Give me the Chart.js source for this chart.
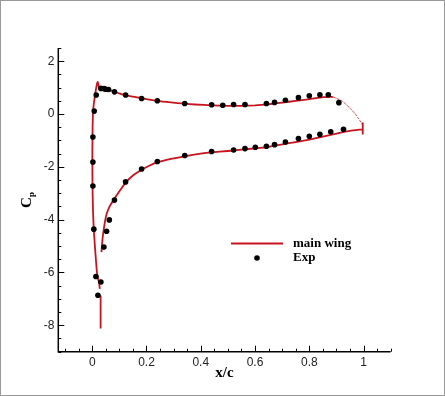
<!DOCTYPE html>
<html lang="en">
<head>
  <meta charset="UTF-8">
  <title>Cp - main wing</title>
  <script src="https://cdn.jsdelivr.net/npm/chart.js"></script>
  <style>
    body { margin: 0; background: #fff; }
  </style>
</head>
<body>
  <canvas id="cp" width="445" height="396"></canvas>
<script>
  // experimental points
  const expX = [0.0147, 0.0074, 0.0025, 0.0025, 0.0025, 0.006, 0.0135, 0.032, 0.021,
    0.032, 0.044, 0.05, 0.06, 0.082, 0.123, 0.182, 0.24, 0.341, 0.44, 0.481, 0.521, 0.563,
    0.642, 0.672, 0.712, 0.76, 0.80, 0.839, 0.87, 0.909,
    0.043, 0.053, 0.063, 0.082, 0.123, 0.182, 0.24, 0.341, 0.44, 0.521, 0.563, 0.601,
    0.642, 0.672, 0.712, 0.76, 0.80, 0.839, 0.879, 0.926];
  const expY = [0.72, 0.11, -0.87, -1.82, -2.73, -4.36, -6.15, -6.36, -6.86,
    0.97, 0.96, 0.94, 0.93, 0.84, 0.72, 0.59, 0.50, 0.40, 0.35, 0.33, 0.36, 0.36,
    0.40, 0.44, 0.52, 0.62, 0.69, 0.73, 0.73, 0.43,
    -5.04, -4.44, -4.01, -3.26, -2.57, -2.08, -1.80, -1.57, -1.42, -1.36, -1.31, -1.26,
    -1.22, -1.16, -1.06, -0.93, -0.84, -0.77, -0.67, -0.58];

  // computed curve (null = break in the line)
  const lineX = [0.887, 0.85, 0.8, 0.75, 0.7, 0.65, 0.6, 0.55, 0.5, 0.44, 0.38, 0.34, 0.29, 0.24,
    0.18, 0.15, 0.12, 0.1, 0.077, 0.05, 0.035, 0.026, 0.02,
    0.014, 0.0037, 0.0015, 0.0005, 0.001, 0.003, 0.006, 0.012, 0.018, 0.026, 0.028, null,
    0.031, 0.031, null,
    0.034, 0.038, 0.045, 0.053, 0.065, 0.077, 0.09, 0.102, 0.123, 0.15, 0.176, 0.21, 0.24,
    0.29, 0.34, 0.4, 0.44, 0.5, 0.55, 0.6, 0.65, 0.7, 0.75, 0.8, 0.85, 0.9, 0.95, 0.995, null,
    0.997, 0.997];
  const lineY = [0.65, 0.64, 0.56, 0.50, 0.43, 0.37, 0.33, 0.31, 0.31, 0.33, 0.36, 0.39, 0.44, 0.50,
    0.60, 0.66, 0.72, 0.78, 0.87, 0.93, 0.96, 0.98, 1.22,
    0.95, 0.18, -0.45, -1.5, -2.7, -3.7, -4.42, -5.3, -6.05, -6.43, -6.62, null,
    -6.87, -8.12, null,
    -5.23, -4.73, -4.2, -3.79, -3.48, -3.28, -3.08, -2.9, -2.6, -2.33, -2.15, -1.96, -1.83,
    -1.7, -1.6, -1.5, -1.45, -1.4, -1.35, -1.3, -1.24, -1.15, -1.06, -0.97, -0.86, -0.74, -0.64, -0.58, null,
    -0.32, -0.78];

  // thin trailing-edge part of the curve
  const teX = [0.887, 0.92, 0.948, 0.968, 0.979, 0.99, 0.995];
  const teY = [0.65, 0.50, 0.24, 0.02, -0.14, -0.30, -0.40];

  const xTicks = [0, 0.2, 0.4, 0.6, 0.8, 1];
  const yTicks = [-8, -6, -4, -2, 0, 2];

  const vermelho = '#c8141e';

  function pontos(xs, ys) {
    return xs.map(function (x, i) {
      return x === null ? { x: null, y: null } : { x: x, y: ys[i] };
    });
  }

  // axes, inward ticks, legend, Cp label, frame
  const extras = {
    id: 'extras',
    afterDraw(chart) {
      const ctx = chart.ctx;
      const a = chart.chartArea;
      const sx = chart.scales.x, sy = chart.scales.y;
      ctx.save();
      ctx.strokeStyle = '#000';
      ctx.lineWidth = 1.5;
      ctx.beginPath();
      ctx.moveTo(a.left, a.top);
      ctx.lineTo(a.left, a.bottom);
      ctx.lineTo(a.right, a.bottom);
      ctx.stroke();

      ctx.lineWidth = 1;
      ctx.beginPath();
      for (let v = -0.1; v <= 1.1001; v += 0.05) {
        const r = Math.round(v * 100) / 100;
        const px = Math.round(sx.getPixelForValue(r)) + 0.5;
        const major = Math.abs(r * 5 - Math.round(r * 5)) < 1e-6;
        ctx.moveTo(px, a.bottom);
        ctx.lineTo(px, a.bottom - (major ? 6 : 3));
      }
      for (let v = -9; v <= 2.5001; v += 0.5) {
        const py = Math.round(sy.getPixelForValue(v)) + 0.5;
        const major = Math.abs(v / 2 - Math.round(v / 2)) < 1e-6;
        ctx.moveTo(a.left, py);
        ctx.lineTo(a.left + (major ? 6 : 3), py);
      }
      ctx.stroke();

      // legend
      ctx.strokeStyle = vermelho;
      ctx.lineWidth = 2;
      ctx.beginPath();
      ctx.moveTo(231, 243.5);
      ctx.lineTo(283, 243.5);
      ctx.stroke();
      ctx.fillStyle = '#000';
      ctx.beginPath();
      ctx.arc(257, 258, 2.8, 0, Math.PI * 2);
      ctx.fill();
      ctx.font = 'bold 13px "Liberation Serif"';
      ctx.textBaseline = 'middle';
      ctx.textAlign = 'left';
      ctx.fillText('main wing', 293, 244);
      ctx.fillText('Exp', 293, 258);

      // x title
      ctx.font = 'bold 15px "Liberation Serif"';
      ctx.textAlign = 'center';
      ctx.fillText('x/c', (a.left + a.right) / 2, 373);

      // y title C_p
      ctx.translate(31, 208);
      ctx.rotate(-Math.PI / 2);
      ctx.textAlign = 'left';
      ctx.textBaseline = 'alphabetic';
      ctx.font = 'bold 15px "Liberation Serif"';
      ctx.fillText('C', 0, 0);
      ctx.font = 'bold 9px "Liberation Serif"';
      ctx.fillText('p', 11, 3);
      ctx.restore();

      // frame
      ctx.save();
      ctx.strokeStyle = '#999';
      ctx.lineWidth = 1;
      ctx.strokeRect(0.5, 0.5, 444, 395);
      ctx.restore();
    }
  };

  new Chart(document.getElementById('cp').getContext('2d'), {
    type: 'scatter',
    data: {
      datasets: [{
        label: 'Exp',
        data: pontos(expX, expY),
        pointRadius: 2.8,
        pointBackgroundColor: '#000',
        pointBorderWidth: 0,
        showLine: false
      }, {
        label: 'main wing',
        data: pontos(lineX, lineY),
        showLine: true,
        borderColor: vermelho,
        borderWidth: 1.8,
        pointRadius: 0,
        spanGaps: false,
        tension: 0.15
      }, {
        label: 'te',
        data: pontos(teX, teY),
        showLine: true,
        borderColor: 'rgba(200, 20, 30, 0.8)',
        borderWidth: 1,
        borderDash: [3, 1],
        pointRadius: 0,
        tension: 0.15
      }]
    },
    options: {
      responsive: false,
      animation: false,
      layout: { padding: { left: 0, top: 48, right: 54.3, bottom: 0 } },
      plugins: {
        legend: { display: false },
        tooltip: { enabled: false }
      },
      scales: {
        x: {
          type: 'linear',
          min: -0.125,
          max: 1.1,
          grid: { display: false, drawTicks: false },
          border: { display: false },
          afterBuildTicks: function (scale) {
            scale.ticks = xTicks.map(function (v) { return { value: v }; });
          },
          afterFit: function (scale) { scale.height = 44.3; },
          ticks: {
            padding: 4,
            color: '#222',
            font: { family: '"Liberation Sans", Arial', size: 12 },
            maxRotation: 0,
            callback: function (v) { return String(v); }
          }
        },
        y: {
          type: 'linear',
          min: -9,
          max: 2.5,
          grid: { display: false, drawTicks: false },
          border: { display: false },
          afterBuildTicks: function (scale) {
            scale.ticks = yTicks.map(function (v) { return { value: v }; });
          },
          afterFit: function (scale) { scale.width = 58.3; },
          ticks: {
            padding: 4,
            color: '#222',
            font: { family: '"Liberation Sans", Arial', size: 12 },
            callback: function (v) { return String(v); }
          }
        }
      }
    },
    plugins: [extras]
  });
</script>
</body>
</html>
